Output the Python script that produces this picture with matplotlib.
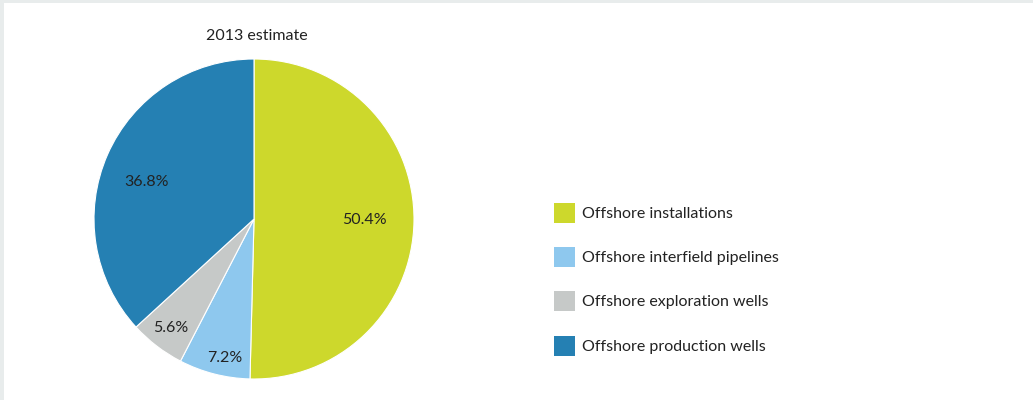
import numpy as np
import matplotlib.pyplot as plt
from matplotlib.patches import Rectangle

plt.rcParams['font.family'] = ['Lato', 'DejaVu Sans']

categories = ['Offshore installations', 'Offshore interfield pipelines',
              'Offshore exploration wells', 'Offshore production wells']
shares = [50.4, 7.2, 5.6, 36.8]
colors = ['#cdd82c', '#8ec8ee', '#c6c9c8', '#2580b3']
# label placement inside each wedge (radius fraction, angle nudge in degrees)
label_dist = [0.69, 0.89, 0.86, 0.71]
label_nudge = [0, 2.5, 0, 4.5]

fig = plt.figure(figsize=(10.33, 4), dpi=100, facecolor='#e8ecec')
fig.patches.append(Rectangle((4 / 1033, 0), 1, 397 / 400, transform=fig.transFigure,
                             facecolor='white', edgecolor='none', zorder=-10))

ax = fig.add_axes([94 / 1033, 21 / 400, 320 / 1033, 320 / 400])
ax.set_zorder(5)
ax.patch.set_alpha(0)
wedges, _ = ax.pie(shares, colors=colors, startangle=90, counterclock=False,
                   radius=1, wedgeprops=dict(edgecolor='white', linewidth=0.8))
ax.set_xlim(-1, 1)
ax.set_ylim(-1, 1)
ax.set_aspect('equal')
ax.axis('off')

for w, v, d, n in zip(wedges, shares, label_dist, label_nudge):
    ang = np.deg2rad((w.theta1 + w.theta2) / 2 + n)
    ax.text(d * np.cos(ang), d * np.sin(ang), f'{v}%', ha='center', va='center',
            fontsize=11.5, color='#222222')

fig.text(257 / 1033, 1 - 36 / 400, '2013 estimate', ha='center', va='center',
         fontsize=11.5, color='#222222')

ys = [213, 257, 301, 346]
for name, c, y in zip(categories, colors, ys):
    fig.patches.append(Rectangle((554 / 1033, 1 - (y + 10) / 400), 21 / 1033, 20 / 400,
                                 transform=fig.transFigure, facecolor=c, edgecolor='none'))
    fig.text(582 / 1033, 1 - (y + 1) / 400, name, ha='left', va='center',
             fontsize=11.5, color='#222222')

fig.savefig('out.png', dpi=100, facecolor=fig.get_facecolor())
